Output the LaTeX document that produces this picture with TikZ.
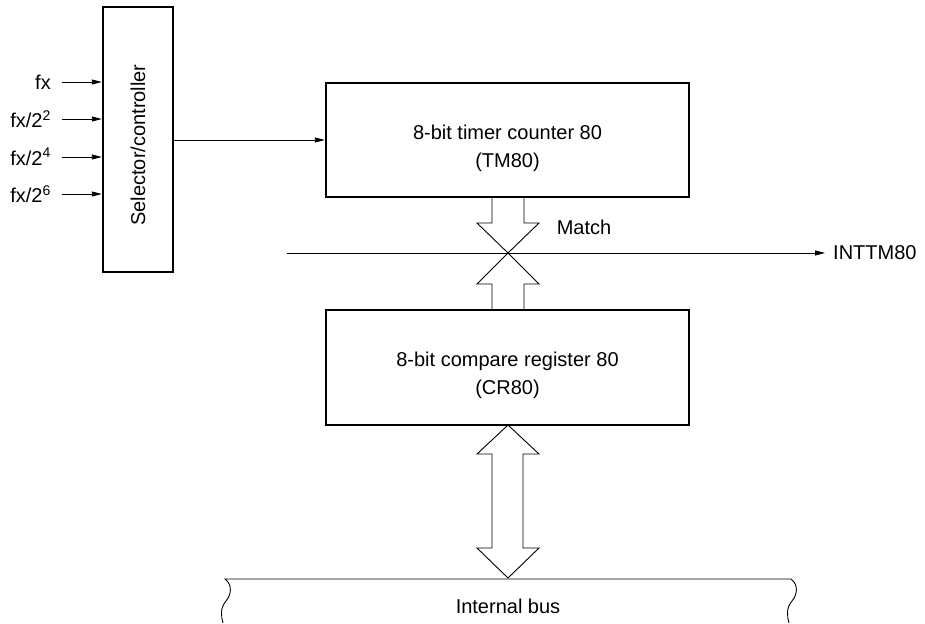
\documentclass[tikz,border=0pt]{standalone}
\usepackage{fontspec}
\setmainfont{Liberation Sans}
\usetikzlibrary{arrows.meta}
\tikzset{
  blk/.style={draw, line width=2.4pt, rectangle, inner sep=0pt, align=center},
  thin/.style={line width=0.9pt},
  sig/.style={thin, -{Triangle[length=10pt,width=5pt]}},
  lbl/.style={inner sep=0pt, font=\fontsize{20}{28}\selectfont}
}
\begin{document}
\begin{tikzpicture}[x=1pt,y=-1pt, font=\fontsize{20}{28}\selectfont]
\useasboundingbox (0,0) rectangle (925,623);
% blocks
\node[blk, minimum width=70pt, minimum height=265pt] (sel) at (138,139.5) {};
\node[lbl, rotate=90] (seltxt) at (138,145) {Selector/controller};
\node[blk, minimum width=363pt, minimum height=114pt] (tm) at (507.5,140) {};
\node[lbl, align=center] (tmtxt) at (507.5,148) {8-bit timer counter 80\\(TM80)};
\node[blk, minimum width=363pt, minimum height=115pt] (cr) at (507.5,367.5) {};
\node[lbl, align=center] (crtxt) at (507.5,375) {8-bit compare register 80\\(CR80)};
% inputs
\foreach \y/\t/\n in {82/{fx}/a, 119/{fx/2\textsuperscript{2}}/b, 157/{fx/2\textsuperscript{4}}/c, 194/{fx/2\textsuperscript{6}}/d}{
  \node[lbl, anchor=east] (in\n) at (51,\y) {\t};
  \coordinate (s\n) at (62,\y);
  \draw[sig] (s\n) -- (sel.west |- s\n);
}
% selector to timer
\draw[sig] (sel.east |- tm.west) -- (tm.west);
% match line
\coordinate (mL) at (287,253);
\coordinate (mR) at (825,253);
\draw[sig] (mL) -- (mR);
\node[lbl, anchor=west] (intt) at (833,253) {INTTM80};
\node[lbl] (match) at (584,227) {Match};
% match arrows (open shapes)
\draw[thin, line join=miter] (492,197) -- (492,223) -- (477,223) -- (508,253) -- (539,223) -- (524,223) -- (524,197);
\draw[thin, line join=miter] (492,310) -- (492,284) -- (477,284) -- (508,253) -- (539,284) -- (524,284) -- (524,310);
% bidirectional bus arrow
\draw[thin, line join=miter] (508,425) -- (477,454) -- (492,454) -- (492,548) -- (477,548) -- (508,578) -- (539,548) -- (523,548) -- (523,454) -- (539,454) -- cycle;
% internal bus
\draw[thin] (223,623) .. controls (221,616) and (220,608) .. (226,601) .. controls (231,595) and (233,585) .. (225,579)
  -- (791,579) .. controls (799,585) and (797,595) .. (792,601) .. controls (786,608) and (787,616) .. (789,623);
\node[lbl] (bus) at (508,606) {Internal bus};
\end{tikzpicture}
\end{document}
